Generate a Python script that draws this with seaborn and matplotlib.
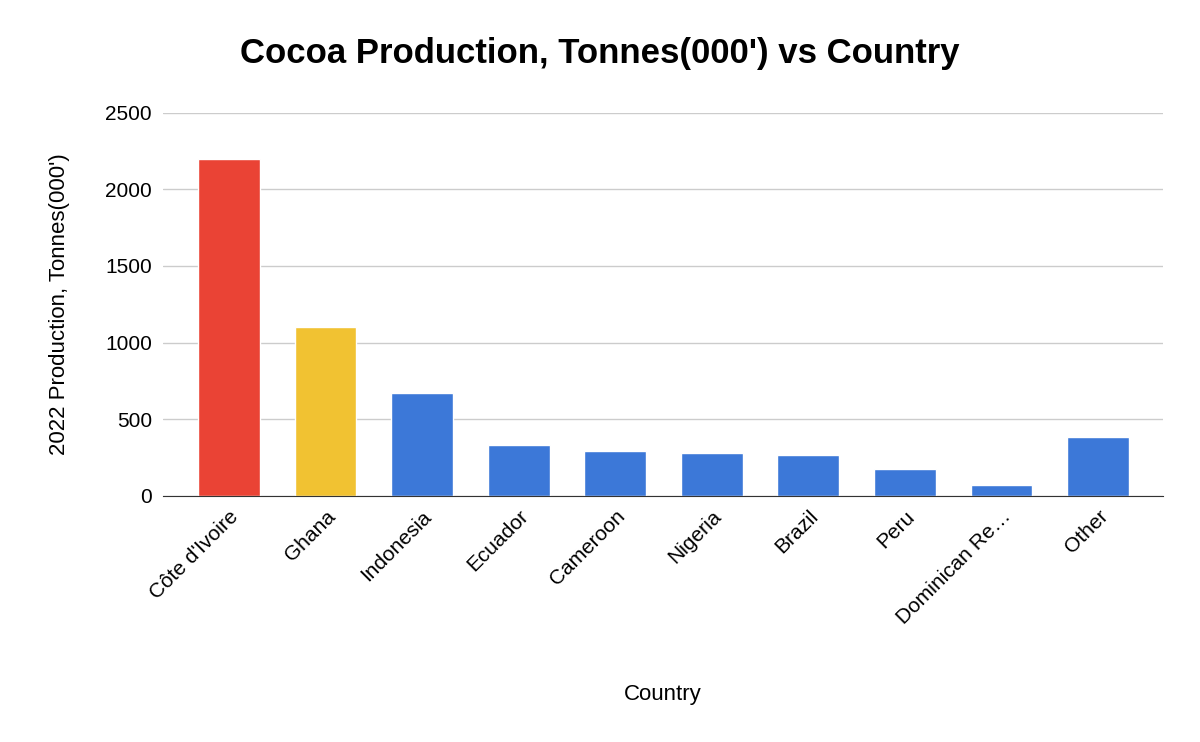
import seaborn as sns
import matplotlib.pyplot as plt
import pandas as pd

countries = ["Côte d'Ivoire", "Ghana", "Indonesia", "Ecuador", "Cameroon",
             "Nigeria", "Brazil", "Peru", "Dominican Re…", "Other"]
production = [2200, 1100, 670, 330, 290, 280, 265, 175, 70, 382]
colors = ["#EA4335", "#F1C232"] + ["#3C78D8"] * 8

df = pd.DataFrame({"Country": countries, "Production": production})

sns.set_style("white")
plt.rcParams["font.family"] = "Liberation Sans"
plt.rcParams["text.color"] = "black"
fig = plt.figure(figsize=(12, 7.42), dpi=100)
ax = fig.add_axes([0.136, 0.332, 0.833, 0.516])

sns.barplot(data=df, x="Country", y="Production", hue="Country",
            palette=colors, legend=False, width=0.64, ax=ax, saturation=1)

ax.set_xlim(-0.68, 9.67)
ax.set_ylim(0, 2500)
ax.set_yticks(range(0, 2501, 500))
ax.yaxis.grid(True, color="#cccccc", linewidth=1)
ax.set_axisbelow(True)
for s in ["top", "right", "left"]:
    ax.spines[s].set_visible(False)
ax.spines["bottom"].set_color("#333333")
ax.tick_params(axis="both", length=0, labelsize=15, pad=8, labelcolor="black")
plt.setp(ax.get_xticklabels(), rotation=45, ha="right", rotation_mode="anchor")
ax.set_xlabel("Country", fontsize=16, labelpad=40, color="black")
ax.set_ylabel("2022 Production, Tonnes(000')", fontsize=16, labelpad=25, color="black")
fig.text(0.5, 0.915, "Cocoa Production, Tonnes(000') vs Country",
         fontsize=25, fontweight="bold", ha="center", color="black")

fig.savefig("out.png", dpi=100)
